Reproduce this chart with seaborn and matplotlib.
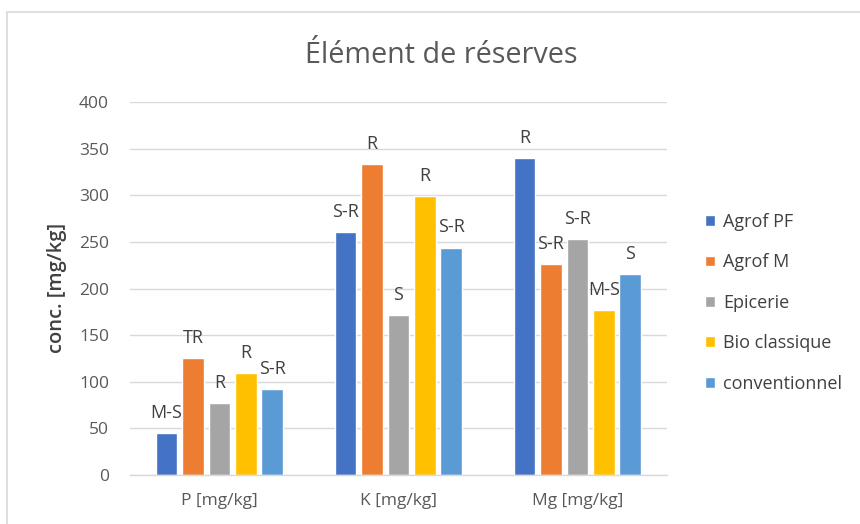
import matplotlib
matplotlib.use("Agg")
import matplotlib.pyplot as plt
import seaborn as sns
import pandas as pd
from matplotlib.patches import Rectangle

categories = ["P [mg/kg]", "K [mg/kg]", "Mg [mg/kg]"]
series = ["Agrof PF", "Agrof M", "Epicerie", "Bio classique", "conventionnel"]
values = {
    "Agrof PF":      [45, 261, 340],
    "Agrof M":       [125, 334, 226],
    "Epicerie":      [77, 172, 253],
    "Bio classique": [109, 299, 177],
    "conventionnel": [92, 244, 216],
}
labels = {
    "Agrof PF":      ["M-S", "S-R", "R"],
    "Agrof M":       ["TR", "R", "S-R"],
    "Epicerie":      ["R", "S", "S-R"],
    "Bio classique": ["R", "R", "M-S"],
    "conventionnel": ["S-R", "S-R", "S"],
}
colors = ["#4472C4", "#ED7D31", "#A5A5A5", "#FFC000", "#5B9BD5"]

rows = []
for s in series:
    for c, v in zip(categories, values[s]):
        rows.append({"cat": c, "serie": s, "val": v})
df = pd.DataFrame(rows)

sns.set_theme(style="white")
plt.rcParams["font.family"] = ["Open Sans", "DejaVu Sans"]

fig = plt.figure(figsize=(8.6, 5.24), dpi=100)
ax = fig.add_axes([0.151, 0.0935, 0.6244, 0.7115])

# outer chart border
fig.patches.append(Rectangle((0.008, -0.05), 1.1, 1.027, transform=fig.transFigure,
                             fill=False, edgecolor="#D9D9D9", linewidth=1.2))

sns.barplot(data=df, x="cat", y="val", hue="serie", order=categories,
            hue_order=series, palette=colors, width=0.737, gap=0.18,
            saturation=1, ax=ax, legend=True)

ax.set_ylim(0, 400)
ax.set_yticks(range(0, 401, 50))
ax.yaxis.grid(True, color="#D9D9D9", linewidth=1)
ax.set_axisbelow(True)
for sp in ["top", "right", "left"]:
    ax.spines[sp].set_visible(False)
ax.spines["bottom"].set_color("#D9D9D9")
ax.spines["bottom"].set_linewidth(1)
ax.tick_params(axis="both", length=0, labelsize=12.5, colors="#595959")
ax.tick_params(axis="x", pad=13)
ax.tick_params(axis="y", pad=15)
ax.set_xlabel("")
ax.set_ylabel("")
fig.text(57 / 860, 1 - 288 / 524, "conc. [mg/kg]", rotation=90, ha="center",
         va="center", fontsize=14.5, color="#404040", fontweight="semibold")

for cont, s in zip(ax.containers, series):
    ax.bar_label(cont, labels=labels[s], padding=8, fontsize=13, color="#404040")

fig.text(0.513, 0.895, "Élément de réserves", ha="center", va="center",
         fontsize=20.7, color="#595959")

leg = ax.legend(loc="center left", bbox_to_anchor=(1.071, 0.462), frameon=False,
                fontsize=13, labelspacing=1.24, handlelength=0.55, handleheight=0.55,
                handletextpad=0.45, borderaxespad=0, borderpad=0)
for t in leg.get_texts():
    t.set_color("#404040")

fig.savefig("out.png", dpi=100)
